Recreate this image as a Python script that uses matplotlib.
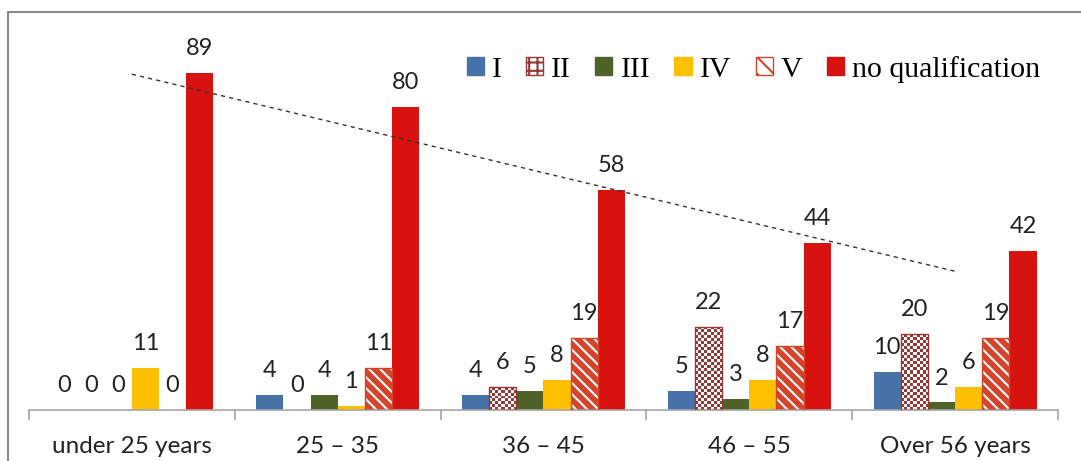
import numpy as np
import matplotlib
import matplotlib.pyplot as plt
from matplotlib.patches import Patch, Rectangle
from matplotlib.colors import ListedColormap

# data
categories = ['under 25 years', '25 – 35', '36 – 45', '46 – 55', 'Over 56 years']
series = ['I', 'II', 'III', 'IV', 'V', 'no qualification']
val_I = [0, 4, 4, 5, 10]
val_II = [0, 0, 6, 22, 20]
val_III = [0, 4, 5, 3, 2]
val_IV = [11, 1, 8, 8, 6]
val_V = [0, 11, 19, 17, 19]
val_noq = [89, 80, 58, 44, 42]

colors = ['#4672A8', '#953735', '#4F6228', '#FFC000', '#D6432B', '#D7120F']

plt.rcParams['hatch.linewidth'] = 1.5
fig = plt.figure(figsize=(10.81, 4.61), dpi=100)
ax = fig.add_axes([0.0268, 0.1106, 0.9519, 0.8222])

x = np.arange(len(categories))
w = 0.132
values = [val_I, val_II, val_III, val_IV, val_V, val_noq]
containers = []
for i, vals in enumerate(values):
    off = (i - 2.5) * w
    if i == 1:
        c = ax.bar(x + off, vals, w, facecolor='none', edgecolor=colors[1], linewidth=1, zorder=3)
    elif i == 4:
        c = ax.bar(x + off, vals, w, facecolor=colors[4], edgecolor='white', hatch='\\\\\\',
                   linewidth=0, zorder=2)
        outl = ax.bar(x + off, vals, w, facecolor='none', edgecolor=colors[4], linewidth=1, zorder=3)
        for bar in outl:
            if bar.get_height() == 0:
                bar.set_visible(False)
    else:
        c = ax.bar(x + off, vals, w, color=colors[i], linewidth=0, zorder=2)
    for bar in c:
        if bar.get_height() == 0:
            bar.set_linewidth(0)
    containers.append(c)
    ax.bar_label(c, labels=[str(v) for v in vals], padding=10, fontsize=17,
                 family='Lato', color='#222222')

ax.set_xlim(-0.5, 4.5)
ax.set_ylim(0, 100)

# checkerboard fill for series II
cmap = ListedColormap(['white', colors[1]])
fig.canvas.draw()
for bar in containers[1]:
    h = bar.get_height()
    if h <= 0:
        continue
    x0, y0 = bar.get_x(), bar.get_y()
    bw = bar.get_width()
    p0 = ax.transData.transform((x0, y0))
    p1 = ax.transData.transform((x0 + bw, y0 + h))
    nx = max(1, int(round((p1[0] - p0[0]) / 3)))
    ny = max(1, int(round((p1[1] - p0[1]) / 3)))
    board = (np.add.outer(np.arange(ny), np.arange(nx)) % 2)
    im = ax.imshow(board, cmap=cmap, extent=(x0, x0 + bw, y0, y0 + h), aspect='auto',
                   interpolation='nearest', zorder=2)
    im.set_clip_path(bar)
ax.set_xlim(-0.5, 4.5)
ax.set_ylim(0, 100)

# linear trend of "no qualification"
k, b = np.polyfit(x, val_noq, 1)
ax.plot(x, k * x + b, color='#333333', linestyle=(0, (3, 3)), linewidth=1, zorder=4)

for s in ['top', 'right', 'left']:
    ax.spines[s].set_visible(False)
ax.spines['bottom'].set_color('#A6A6A6')
ax.spines['bottom'].set_linewidth(1.2)
ax.set_yticks([])
ax.set_xticks(x)
ax.set_xticklabels(categories, fontsize=17.5, family='Lato', color='#222222')
ax.tick_params(axis='x', which='major', length=0, pad=19)
ax.set_xticks(np.arange(-0.5, 5, 1), minor=True)
ax.tick_params(axis='x', which='minor', length=7, color='#A6A6A6', width=1.2)

handles = [Patch(facecolor=colors[0], edgecolor=colors[0]),
           Patch(facecolor='white', edgecolor=colors[1], hatch='++'),
           Patch(facecolor=colors[2], edgecolor=colors[2]),
           Patch(facecolor=colors[3], edgecolor=colors[3]),
           Patch(facecolor='white', edgecolor=colors[4], hatch='\\\\'),
           Patch(facecolor=colors[5], edgecolor=colors[5])]
ax.legend(handles, series, loc='upper right', bbox_to_anchor=(0.9825, 0.935), ncol=6,
          frameon=False, prop={'family': 'Liberation Serif', 'size': 21.5},
          handlelength=0.57, handleheight=0.57, handletextpad=0.27, columnspacing=0.82,
          borderaxespad=0, borderpad=0)

fig.add_artist(Rectangle((8 / 1081, -0.2), 1.1, 1.2 - 12 / 461, transform=fig.transFigure,
                         fill=False, edgecolor='#8C8C8C', linewidth=1.5, clip_on=False))

fig.savefig('out.png', dpi=100)
